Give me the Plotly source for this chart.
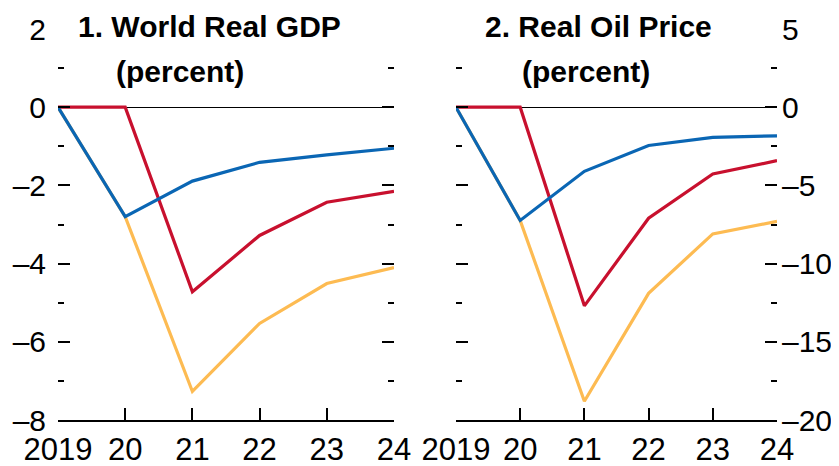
import plotly.graph_objects as go

years = [2019, 2020, 2021, 2022, 2023, 2024]
year_labels = ["2019", "20", "21", "22", "23", "24"]

gdp_blue = [0, -2.80, -1.89, -1.41, -1.22, -1.05]
gdp_red = [0, 0, -4.72, -3.28, -2.43, -2.15]
gdp_yellow = [0, -2.80, -7.27, -5.53, -4.51, -4.10]

oil_blue = [0, -7.24, -4.10, -2.45, -1.93, -1.83]
oil_red = [0, 0, -12.7, -7.10, -4.27, -3.42]
oil_yellow = [0, -7.24, -18.8, -11.9, -8.10, -7.30]

gdp_ticks = [2, 0, -2, -4, -6, -8]
gdp_tick_text = ["2", "0", "–2", "–4", "–6", "–8"]
oil_ticks = [5, 0, -5, -10, -15, -20]
oil_tick_text = ["5", "0", "–5", "–10", "–15", "–20"]

titles = [("1. World Real GDP", "(percent)"), ("2. Real Oil Price", "(percent)")]

BLUE = "#0a66b4"
RED = "#c8102e"
YELLOW = "#fdbb52"
FONT = "Liberation Sans, Arial, sans-serif"

fig = go.Figure()
for vals, color in [(gdp_yellow, YELLOW), (gdp_red, RED), (gdp_blue, BLUE)]:
    fig.add_trace(go.Scatter(x=years, y=vals, mode="lines", line=dict(color=color, width=3.2),
                             xaxis="x", yaxis="y", showlegend=False, hoverinfo="skip"))
for vals, color in [(oil_yellow, YELLOW), (oil_red, RED), (oil_blue, BLUE)]:
    fig.add_trace(go.Scatter(x=years, y=vals, mode="lines", line=dict(color=color, width=3.2),
                             xaxis="x2", yaxis="y2", showlegend=False, hoverinfo="skip"))

xcommon = dict(range=[2019, 2024], tickmode="array", tickvals=years, ticktext=year_labels,
               ticks="inside", ticklen=12, tickwidth=1.5, tickcolor="black",
               showline=True, linecolor="black", linewidth=1.5, showgrid=False, zeroline=False,
               automargin=False,
               tickfont=dict(family=FONT, size=31, color="black"), ticklabelstandoff=1)
ycommon = dict(ticks="inside", ticklen=12, tickwidth=1.5, tickcolor="black",
               showline=False, mirror="ticks", showgrid=False, automargin=False,
               zeroline=True, zerolinecolor="black", zerolinewidth=1,
               tickfont=dict(family=FONT, size=30, color="black"))

fig.update_layout(
    width=831, height=458,
    margin=dict(l=50, r=62, t=21, b=46, autoexpand=False),
    plot_bgcolor="white", paper_bgcolor="white",
    xaxis=dict(domain=[0, 0.4673], anchor="y", **xcommon),
    xaxis2=dict(domain=[0.5535, 1], anchor="y2", **xcommon),
    yaxis=dict(range=[-8, 2], anchor="x", side="left", tickmode="array",
               tickvals=gdp_ticks, ticktext=gdp_tick_text, ticklabelstandoff=11,
               minor=dict(dtick=1, tick0=1, ticks="inside", ticklen=6, tickwidth=1.5, tickcolor="black"),
               **ycommon),
    yaxis2=dict(range=[-20, 5], anchor="x2", side="right", tickmode="array",
                tickvals=oil_ticks, ticktext=oil_tick_text, ticklabelstandoff=4,
                minor=dict(dtick=5, tick0=2.5, ticks="inside", ticklen=6, tickwidth=1.5, tickcolor="black"),
                **ycommon),
)

title_pos = [((0.2114, 1.007), (0.1697, 0.892)), ((0.7524, 1.007), (0.7344, 0.892))]
for (t1, t2), ((x1, y1), (x2, y2)) in zip(titles, title_pos):
    fig.add_annotation(text="<b>%s</b>" % t1, x=x1, y=y1, xref="paper", yref="paper",
                       xanchor="center", yanchor="middle", showarrow=False,
                       font=dict(family=FONT, size=30, color="black"))
    fig.add_annotation(text="<b>%s</b>" % t2, x=x2, y=y2, xref="paper", yref="paper",
                       xanchor="center", yanchor="middle", showarrow=False,
                       font=dict(family=FONT, size=30, color="black"))

fig.write_html("out.html")
